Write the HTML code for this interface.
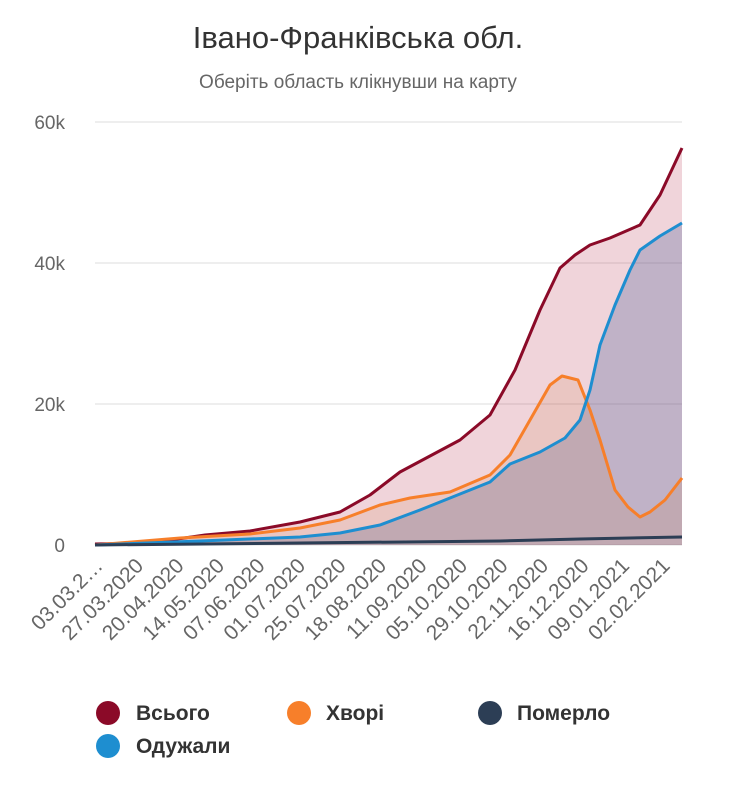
<!DOCTYPE html>
<html><head><meta charset="utf-8"><style>
body{margin:0;background:#fff;width:750px;height:798px;overflow:hidden;font-family:"Liberation Sans","DejaVu Sans",sans-serif}
</style></head><body>
<svg width="750" height="798" viewBox="0 0 750 798" xmlns="http://www.w3.org/2000/svg" font-family="Liberation Sans, DejaVu Sans, sans-serif">
<text x="358" y="48" text-anchor="middle" font-size="31" fill="#333">Івано-Франківська обл.</text>
<text x="358" y="88" text-anchor="middle" font-size="19" fill="#666">Оберіть область клікнувши на карту</text>
<g stroke="#ddd" stroke-width="1">
<line x1="95" y1="122" x2="682" y2="122"/><line x1="95" y1="263" x2="682" y2="263"/><line x1="95" y1="404" x2="682" y2="404"/><line x1="95" y1="545" x2="682" y2="545"/>
</g>
<g font-size="19" fill="#666" text-anchor="end">
<text x="65" y="129">60k</text><text x="65" y="270">40k</text><text x="65" y="411">20k</text><text x="65" y="552">0</text>
</g>
<path d="M95,545 L95,544 L150,543 L205,535 L250,531 L300,522 L340,512 L370,495 L400,472 L430,456 L460,440 L490,415 L515,370 L540,310 L560,268 L575,255 L590,245 L610,238 L640,225 L660,195 L682,148 L682,545 Z" fill="rgba(180,40,70,0.2)"/>
<path d="M95,545 L200,541 L300,537 L340,533 L380,525 L420,510 L460,494 L490,482 L510,464 L540,452 L565,438 L580,420 L590,390 L600,345 L615,305 L630,270 L640,250 L660,236 L682,223 L682,545 Z" fill="rgba(70,90,150,0.28)"/>
<path d="M95,545 L180,538 L250,534 L300,528 L340,520 L380,505 L410,498 L450,492 L490,475 L510,455 L530,420 L550,385 L562,376 L578,380 L590,410 L600,440 L615,490 L628,507 L640,517 L650,512 L665,500 L682,478 L682,545 Z" fill="rgba(200,120,60,0.15)"/>
<g fill="none" stroke-width="3" stroke-linejoin="round">
<path d="M95,544 L150,543 L205,535 L250,531 L300,522 L340,512 L370,495 L400,472 L430,456 L460,440 L490,415 L515,370 L540,310 L560,268 L575,255 L590,245 L610,238 L640,225 L660,195 L682,148" stroke="#8b0a28"/>
<path d="M95,545 L180,538 L250,534 L300,528 L340,520 L380,505 L410,498 L450,492 L490,475 L510,455 L530,420 L550,385 L562,376 L578,380 L590,410 L600,440 L615,490 L628,507 L640,517 L650,512 L665,500 L682,478" stroke="#f77f2a"/>
<path d="M95,545 L200,541 L300,537 L340,533 L380,525 L420,510 L460,494 L490,482 L510,464 L540,452 L565,438 L580,420 L590,390 L600,345 L615,305 L630,270 L640,250 L660,236 L682,223" stroke="#1e8ed0"/>
<path d="M95,545 L300,543 L500,541 L580,539 L682,537" stroke="#2c3e55"/>
</g>
<g font-size="21" fill="#666" text-anchor="end">
<text transform="translate(104,567) rotate(-45)">03.03.2…</text>
<text transform="translate(144.5,567) rotate(-45)">27.03.2020</text>
<text transform="translate(185,567) rotate(-45)">20.04.2020</text>
<text transform="translate(225.5,567) rotate(-45)">14.05.2020</text>
<text transform="translate(266,567) rotate(-45)">07.06.2020</text>
<text transform="translate(306.5,567) rotate(-45)">01.07.2020</text>
<text transform="translate(347,567) rotate(-45)">25.07.2020</text>
<text transform="translate(387.5,567) rotate(-45)">18.08.2020</text>
<text transform="translate(428,567) rotate(-45)">11.09.2020</text>
<text transform="translate(468.5,567) rotate(-45)">05.10.2020</text>
<text transform="translate(509,567) rotate(-45)">29.10.2020</text>
<text transform="translate(549.5,567) rotate(-45)">22.11.2020</text>
<text transform="translate(590,567) rotate(-45)">16.12.2020</text>
<text transform="translate(630.5,567) rotate(-45)">09.01.2021</text>
<text transform="translate(671,567) rotate(-45)">02.02.2021</text>
</g>
<g font-size="21" font-weight="bold" fill="#333">
<circle cx="108" cy="713" r="12" fill="#8b0a28"/><text x="136" y="720">Всього</text>
<circle cx="299" cy="713" r="12" fill="#f77f2a"/><text x="326" y="720">Хворі</text>
<circle cx="490" cy="713" r="12" fill="#2c3e55"/><text x="517" y="720">Померло</text>
<circle cx="108" cy="746" r="12" fill="#1e8ed0"/><text x="136" y="753">Одужали</text>
</g>
</svg>
</body></html>
